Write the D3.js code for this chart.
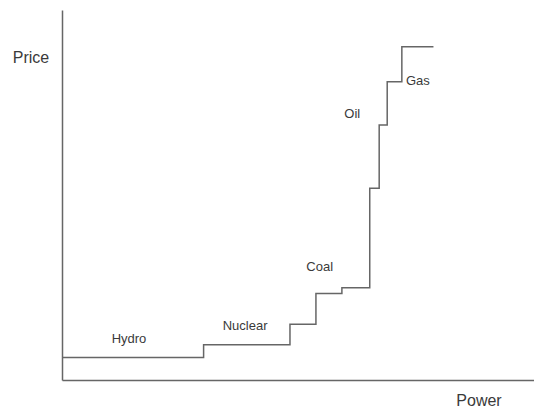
<!DOCTYPE html>
<html>
<head>
<meta charset="utf-8">
<script src="https://cdn.jsdelivr.net/npm/d3@7"></script>
<style>
  html, body { margin: 0; padding: 0; background: #fff; }
  svg { display: block; }
  text { font-family: Arial, "Liberation Sans", Helvetica, sans-serif; fill: #3a3a3a; }
</style>
</head>
<body>
<svg id="chart" width="534" height="407"></svg>
<script>
// Merit-order supply curve (arbitrary units)
const stepStart = [0, 30, 48.3, 53.8, 59.3, 65.2, 67.2, 68.9, 72.0];
const stepEnd   = 78.7;
const stepPrice = [6.1, 9.5, 15.1, 23.4, 24.9, 51.8, 68.9, 80.6, 90.1];

const labelNames = ["Hydro", "Nuclear", "Coal", "Oil", "Gas"];
const labelX     = [14.2, 38.8, 54.6, 61.5, 75.4];
const labelY     = [11.1, 14.7, 30.8, 72.1, 80.9];

const xTitle = "Power";
const yTitle = "Price";

const svg = d3.select("#chart");
const W = 534, H = 407;
const margin = {left: 62, top: 10, right: 0, bottom: 27};

const x = d3.scaleLinear().domain([0, 100]).range([margin.left, W - margin.right]);
const y = d3.scaleLinear().domain([0, 100]).range([H - margin.bottom, margin.top]);

// axes without ticks
const xAxis = d3.axisBottom(x).tickValues([]).tickSizeOuter(0);
const yAxis = d3.axisLeft(y).tickValues([]).tickSizeOuter(0);

svg.append("g").attr("transform", `translate(0,${y(0)})`).call(xAxis)
  .call(g => g.select(".domain").attr("stroke", "#666").attr("stroke-width", 1.5));
svg.append("g").attr("transform", `translate(${x(0)},0)`).call(yAxis)
  .call(g => g.select(".domain").attr("stroke", "#666").attr("stroke-width", 1.5));

// step line
const pts = stepStart.map((s, i) => [s, stepPrice[i]]);
pts.push([stepEnd, stepPrice[stepPrice.length - 1]]);
const line = d3.line().x(d => x(d[0])).y(d => y(d[1])).curve(d3.curveStepAfter);
svg.append("path").datum(pts)
  .attr("d", line)
  .attr("fill", "none")
  .attr("stroke", "#666")
  .attr("stroke-width", 1.5);

// labels
svg.selectAll("text.lbl").data(labelNames).join("text")
  .attr("class", "lbl")
  .attr("x", (d, i) => x(labelX[i]))
  .attr("y", (d, i) => y(labelY[i]))
  .attr("text-anchor", "middle")
  .attr("dominant-baseline", "central")
  .attr("font-size", 13)
  .text(d => d);

// axis titles
svg.append("text").attr("x", 31).attr("y", 57)
  .attr("text-anchor", "middle").attr("dominant-baseline", "central")
  .attr("font-size", 16).text(yTitle);
svg.append("text").attr("x", 479).attr("y", 400)
  .attr("text-anchor", "middle").attr("dominant-baseline", "central")
  .attr("font-size", 16).text(xTitle);
</script>
</body>
</html>
